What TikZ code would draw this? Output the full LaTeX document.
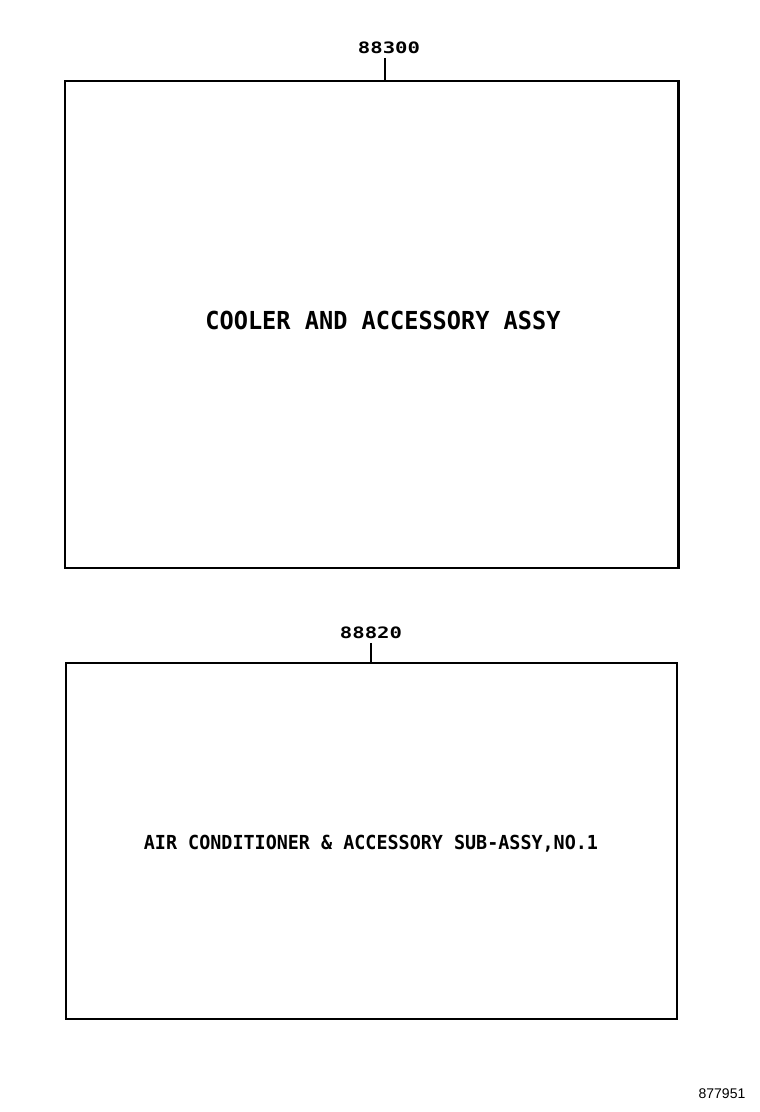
\documentclass[tikz,border=0pt]{standalone}
\usepackage{graphicx}
\usepackage{fontspec}
\newfontfamily\partmono{DejaVu Sans Mono}
\newfontfamily\refsans{Liberation Sans}
\usetikzlibrary{positioning}

\tikzset{
  assybox/.style={draw, line width=1.6pt, inner sep=0pt, anchor=north west},
  partno/.style={inner sep=0.75pt, font=\partmono\bfseries\fontsize{16.5}{16.5}\selectfont},
  assyname/.style={inner sep=0.75pt},
  tick/.style={line width=1.6pt}
}

\begin{document}
\begin{tikzpicture}[x=1pt,y=1pt,yscale=-1,xscale=1]
\useasboundingbox (0,0) rectangle (760,1112);

%Shape: Rectangle [id:cooler]
\node [assybox, minimum width=613pt, minimum height=487pt] (cooler) at (64,80) {};
\draw [line width=3pt] (cooler.north east) -- (cooler.south east);
%Shape: Rectangle [id:aircon]
\node [assybox, minimum width=611pt, minimum height=356pt] (aircon) at (65,662) {};

% Text Node
\node [partno] (no88300) at (389,48) {\scalebox{1.25}[0.95]{88300}};
\draw [tick] ([xshift=-4pt,yshift=3pt]no88300.south) -- ([xshift=-4pt]no88300.south |- cooler.north);
% Text Node
\node [partno] (no88820) at (371,633) {\scalebox{1.25}[0.95]{88820}};
\draw [tick] ([yshift=3pt]no88820.south) -- (no88820.south |- aircon.north);

% Text Node
\node [assyname, font=\partmono\bfseries\fontsize{23.6}{23.6}\selectfont] (coolername) at (383,320) {\scalebox{1}[1.05]{COOLER AND ACCESSORY ASSY}};
% Text Node
\node [assyname, font=\partmono\bfseries\fontsize{18.4}{18.4}\selectfont] (airconname) at (371,844) {\scalebox{1}[1.05]{AIR CONDITIONER \& ACCESSORY SUB-ASSY,NO.1}};

% Text Node
\node [inner sep=0pt, font=\refsans\fontsize{14}{14}\selectfont] (figno) at (722,1094) {877951};

\end{tikzpicture}
\end{document}
